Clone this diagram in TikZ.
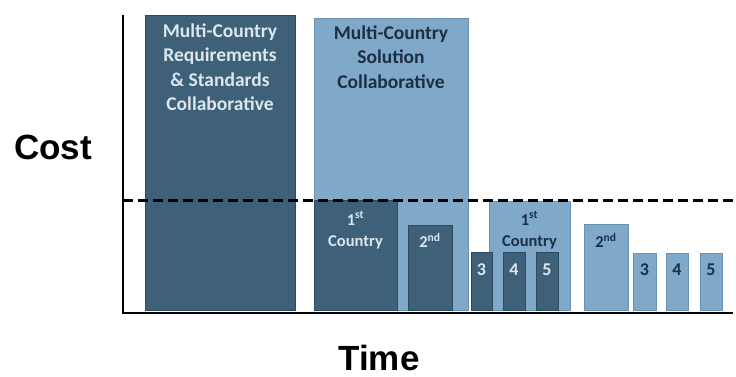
\documentclass[tikz,border=0pt]{standalone}
\usepackage{fontspec}
\setmainfont{Carlito}
\newfontfamily\arialfont{Liberation Sans}
\begin{document}
\begin{tikzpicture}[x=1pt,y=-1pt,
  darkfill/.style={fill=darkblue, draw=darkedge, line width=0.6pt},
  lightfill/.style={fill=lightblue, draw=lightedge, line width=0.6pt},
  bigtxt/.style={font=\bfseries\fontsize{19.5}{24.5}\selectfont, align=center},
  smalltxt/.style={font=\bfseries\fontsize{16.5}{21}\selectfont, align=center},
  numtxt/.style={font=\bfseries\fontsize{18}{20}\selectfont},
  axislabel/.style={font=\arialfont\bfseries\fontsize{35}{40}\selectfont, inner sep=0pt}]
\definecolor{darkblue}{HTML}{3E6079}
\definecolor{darkedge}{HTML}{2C4A60}
\definecolor{lightblue}{HTML}{7FA8C9}
\definecolor{lightedge}{HTML}{6890B0}
\definecolor{paletext}{HTML}{DCE6EE}
\definecolor{navytext}{HTML}{1B2F45}
\useasboundingbox (0,0) rectangle (736,376);
% big boxes
\filldraw[darkfill] (145,15) rectangle (295,310);
\filldraw[lightfill] (314,18) rectangle (468,310);
\node[bigtxt, text=paletext, anchor=north] (req) at (220,20) {Multi-Country\\Requirements\\\& Standards\\Collaborative};
\node[bigtxt, text=navytext, anchor=north] (sol) at (391,22) {Multi-Country\\Solution\\Collaborative};
% solution-phase country boxes (dark)
\filldraw[darkfill] (314,200) rectangle (397,310);
\node[smalltxt, text=paletext, anchor=north] (c1a) at (355.5,208) {1\textsuperscript{st}\\Country};
\filldraw[darkfill] (408,225) rectangle (452,310);
\node[smalltxt, text=paletext, anchor=north] (c2a) at (430,230) {2\textsuperscript{nd}};
% light 1st country box
\filldraw[lightfill] (489,201) rectangle (570,310);
\node[smalltxt, text=navytext, anchor=north] (c1b) at (529.5,208) {1\textsuperscript{st}\\Country};
% dark 3 4 5
\filldraw[darkfill] (471,252) rectangle (492,310);
\node[numtxt, text=paletext] (d3) at (481.5,270) {3};
\filldraw[darkfill] (503,252) rectangle (525,310);
\node[numtxt, text=paletext] (d4) at (514,270) {4};
\filldraw[darkfill] (536,252) rectangle (558,310);
\node[numtxt, text=paletext] (d5) at (547,270) {5};
% light 2nd, 3, 4, 5
\filldraw[lightfill] (584,224) rectangle (628,310);
\node[smalltxt, text=navytext, anchor=north] (c2b) at (606,230) {2\textsuperscript{nd}};
\filldraw[lightfill] (633,253) rectangle (656,310);
\node[numtxt, text=navytext] (l3) at (644.5,270) {3};
\filldraw[lightfill] (666,253) rectangle (688,310);
\node[numtxt, text=navytext] (l4) at (677,270) {4};
\filldraw[lightfill] (700,253) rectangle (722,310);
\node[numtxt, text=navytext] (l5) at (711,270) {5};
% axes
\coordinate (top) at (123,15);
\coordinate (origin) at (123,313);
\coordinate (xend) at (733,313);
\draw[line width=2.5pt] (top) -- (origin) -- (xend);
% dashed threshold
\coordinate (dl) at (123,200);
\coordinate (dr) at (736,200);
\draw[line width=3pt, dash pattern=on 10pt off 5pt] (dl) -- (dr);
% labels
\node[axislabel, anchor=base] (cost) at (53,159) {Cost};
\node[axislabel, anchor=base] (time) at (379,370) {Time};
\end{tikzpicture}
\end{document}
